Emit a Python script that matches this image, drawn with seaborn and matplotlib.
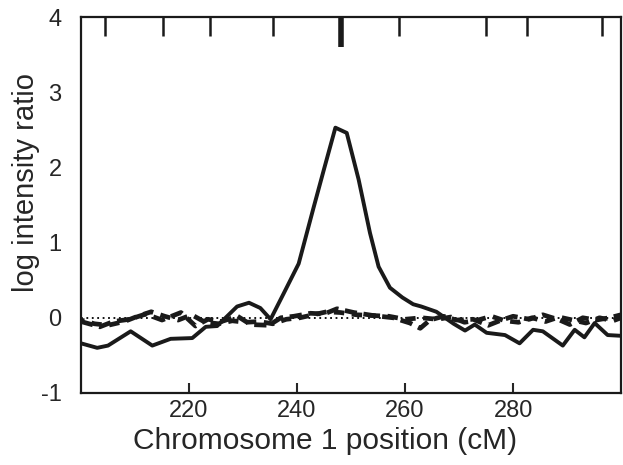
"""
Log intensity ratio along chromosome 1 (cM), one amplified sample vs two controls.
"""

import numpy as np
import pandas as pd
import matplotlib
matplotlib.use("Agg")
import matplotlib.pyplot as plt
import seaborn as sns

# === Data ===

# Solid line: sample with the amplicon
solid_pos = [200, 203, 205, 209.2, 213.2, 216.6, 220.6, 223.1, 225.2, 228.9, 231.1, 233.2,
             235.1, 237.5, 240.3, 243, 245, 247.1, 249.2, 251.4, 253.5, 255.1, 257.2, 259.5,
             261.5, 263, 265.8, 267.4, 269, 271.1, 272.9, 275.1, 278.5, 281.2, 283.7, 285.5,
             289.2, 291.4, 293.2, 295.1, 297.5, 300]
solid_val = [-0.34, -0.40, -0.37, -0.18, -0.37, -0.28, -0.27, -0.12, -0.11, 0.15, 0.20, 0.13,
             -0.02, 0.32, 0.72, 1.45, 1.98, 2.53, 2.46, 1.84, 1.13, 0.68, 0.40, 0.27,
             0.18, 0.15, 0.08, 0.0, -0.08, -0.17, -0.09, -0.20, -0.23, -0.34, -0.16, -0.18,
             -0.37, -0.16, -0.26, -0.07, -0.23, -0.24]

# Dashed lines: two control samples
ctrl_a_pos = [200, 203.5, 206, 209, 212, 215, 218.5, 221.2, 223.5, 226, 229, 231.4, 234.8,
              237, 239.4, 242.5, 245, 247.4, 250.5, 254.1, 257.8, 260.9, 262.8, 264.6, 267.1,
              269.5, 272.6, 275.4, 277.5, 280, 283, 285.5, 288.6, 290.5, 292.9, 295.4, 297.8, 300]
ctrl_a_val = [-0.05, -0.12, -0.05, -0.02, 0.05, -0.03, 0.07, -0.11, -0.02, -0.05, 0.02, -0.09,
              -0.10, 0.0, 0.02, 0.06, 0.05, 0.12, 0.07, 0.03, 0.0, -0.07, -0.14, -0.03, 0.02,
              -0.03, -0.02, -0.10, -0.04, 0.02, -0.02, 0.04, -0.03, -0.09, 0.0, -0.03, 0.0, 0.04]

ctrl_b_pos = [200, 202.5, 205, 208, 210.5, 213, 215.5, 218, 220.5, 223, 225.5, 228, 230.5,
              233, 235.5, 238, 240.5, 243, 245.5, 248, 251, 254, 257, 260, 263, 266, 268.5,
              271, 273.5, 276, 278.5, 281, 283.5, 286, 288.5, 291, 293.5, 296, 298.5, 300]
ctrl_b_val = [-0.03, -0.08, -0.10, -0.05, 0.02, 0.08, 0.02, -0.03, 0.04, -0.06, -0.08, -0.04,
              -0.06, -0.05, -0.08, -0.02, 0.0, 0.04, 0.08, 0.07, 0.04, 0.03, 0.02, -0.02, 0.0,
              -0.02, 0.01, -0.06, -0.03, 0.02, -0.04, -0.06, 0.0, -0.05, 0.01, -0.03, -0.07,
              0.0, -0.04, 0.0]

# Marker positions shown as ticks along the top (the thick one is the locus of interest)
marker_pos = [204.5, 215.2, 223.9, 235.5, 258.8, 274.9, 282.6, 296.5]
locus_pos = [248.1]

x_ticks = [220, 240, 260, 280]
y_ticks = [-1, 0, 1, 2, 3, 4]

# === Plot ===

sns.set_style("ticks")
plt.rcParams['font.family'] = ['Liberation Sans', 'DejaVu Sans']
plt.rcParams['axes.unicode_minus'] = False

fig = plt.figure(figsize=(6.23, 4.65), dpi=100)
ax = fig.add_axes([0.130, 0.155, 0.867, 0.808])

# zero reference
ax.axhline(0, color='black', lw=1.3, ls=(0, (1, 2)), zorder=1)

sns.lineplot(x=ctrl_a_pos, y=ctrl_a_val, ax=ax, color='#1a1a1a', lw=3.4,
             ls=(0, (2.6, 1.4)), sort=False, zorder=2)
sns.lineplot(x=ctrl_b_pos, y=ctrl_b_val, ax=ax, color='#1a1a1a', lw=3.4,
             ls=(1.5, (2.2, 1.6)), sort=False, zorder=2)
sns.lineplot(x=solid_pos, y=solid_val, ax=ax, color='#1a1a1a', lw=2.8, sort=False, zorder=3)

# top markers
ax.vlines(marker_pos, 3.75, 4, color='#1a1a1a', lw=1.8, zorder=4)
ax.vlines(locus_pos, 3.6, 4, color='#1a1a1a', lw=4.0, zorder=4)

ax.set_xlim(200, 300)
ax.set_ylim(-1, 4)
ax.set_xticks(x_ticks)
ax.set_yticks(y_ticks)
ax.tick_params(axis='x', direction='in', length=7, width=1.5, labelsize=17, pad=5)
ax.tick_params(axis='y', length=0, labelsize=17, pad=14)

for s in ax.spines.values():
    s.set_linewidth(1.6)
    s.set_color('#1a1a1a')

ax.set_xlabel('Chromosome 1 position (cM)', fontsize=21.5)
ax.set_ylabel('log intensity ratio', fontsize=21)
ax.xaxis.set_label_coords(0.452, -0.09)
ax.yaxis.set_label_coords(-0.076, 0.56)

fig.savefig('out.png', dpi=100)
